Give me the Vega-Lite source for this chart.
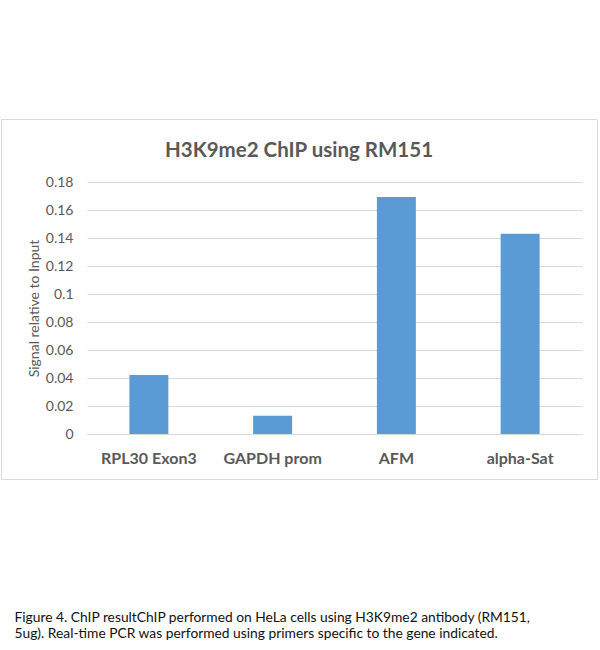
{
  "$schema": "https://vega.github.io/schema/vega-lite/v6.json",
  "width": 596,
  "height": 360,
  "autosize": {"type": "none"},
  "padding": {"left": 1, "top": 119, "right": 3, "bottom": 171},
  "background": "white",
  "title": {
    "text": "H3K9me2 ChIP using RM151",
    "anchor": "middle",
    "frame": "group",
    "offset": -58,
    "baseline": "alphabetic",
    "font": "Lato",
    "fontSize": 20.5,
    "fontWeight": "bold",
    "color": "#595959"
  },
  "data": {
    "values": [
      {"gene": "RPL30 Exon3", "signal": 0.0421},
      {"gene": "GAPDH prom", "signal": 0.0131},
      {"gene": "AFM", "signal": 0.1693},
      {"gene": "alpha-Sat", "signal": 0.1431}
    ]
  },
  "mark": {"type": "bar", "color": "#5b9bd5"},
  "encoding": {
    "x": {
      "field": "gene",
      "type": "nominal",
      "sort": null,
      "scale": {"range": [86, 581], "paddingInner": 0.685, "paddingOuter": 0.3425},
      "axis": {
        "offset": -45,
        "labelAngle": 0,
        "ticks": false,
        "grid": false,
        "domainColor": "#d9d9d9",
        "labelFont": "Lato",
        "labelFontSize": 16,
        "labelFontWeight": "bold",
        "labelColor": "#595959",
        "labelPadding": 16,
        "title": [
          "Figure 4. ChIP resultChIP performed on HeLa cells using H3K9me2 antibody (RM151,",
          "5ug). Real-time PCR was performed using primers specific to the gene indicated."
        ],
        "titleX": 13,
        "titleY": 187,
        "titleAlign": "left",
        "titleBaseline": "alphabetic",
        "titleFont": "Lato",
        "titleFontSize": 13.8,
        "titleFontWeight": "normal",
        "titleColor": "#111111",
        "titleLineHeight": 16
      }
    },
    "y": {
      "field": "signal",
      "type": "quantitative",
      "scale": {"domain": [0, 0.18], "range": [315, 63], "nice": false},
      "axis": {
        "offset": -86,
        "values": [0, 0.02, 0.04, 0.06, 0.08, 0.1, 0.12, 0.14, 0.16, 0.18],
        "format": "~g",
        "domain": false,
        "ticks": false,
        "grid": true,
        "gridColor": "#d9d9d9",
        "labelPadding": 14,
        "labelFont": "Lato",
        "labelFontSize": 14,
        "labelColor": "#595959",
        "title": "Signal relative to Input",
        "titleFont": "Lato",
        "titleFontSize": 14,
        "titleFontWeight": "normal",
        "titleColor": "#595959",
        "titlePadding": 4
      }
    }
  },
  "config": {"view": {"stroke": "#d9d9d9", "strokeWidth": 1}}
}
